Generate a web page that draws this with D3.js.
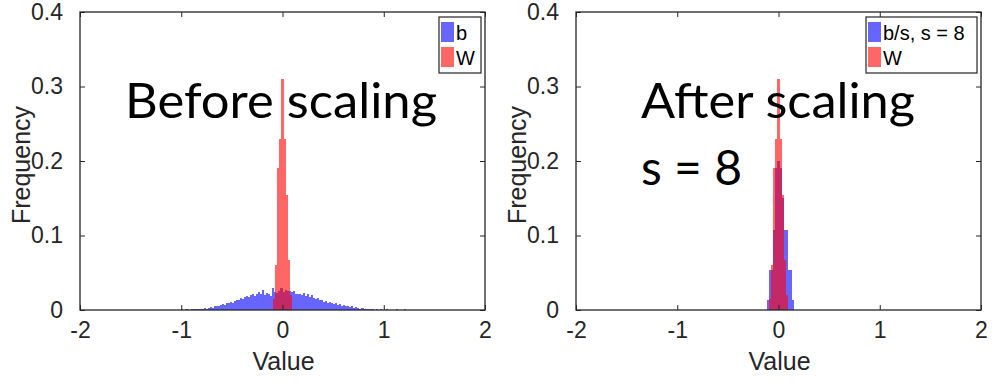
<!DOCTYPE html>
<html>
<head>
<meta charset="utf-8">
<script src="https://cdn.jsdelivr.net/npm/d3@7"></script>
<style>
  html, body { margin: 0; padding: 0; background: #fff; }
  svg { display: block; }
  .ax text { font-family: "Liberation Sans", Arial, sans-serif; fill: #262626; }
  .ax path, .ax line { stroke: #262626; }
</style>
</head>
<body>
<svg id="fig" width="992" height="385"></svg>
<script>
// Histogram bin width (value units) shared by all series
const binWidth = 0.02;

// b: bias values before scaling, bins start at -1.00
const bStart = -1.00;
const bFreq = [
  0.001, 0.000, 0.001, 0.001, 0.000, 0.001, 0.002, 0.001, 0.002, 0.001,
  0.002, 0.003, 0.002, 0.003, 0.004, 0.003, 0.005, 0.006, 0.005, 0.007,
  0.008, 0.007, 0.009, 0.010, 0.011, 0.010, 0.012, 0.014, 0.013, 0.016,
  0.015, 0.018, 0.019, 0.017, 0.020, 0.021, 0.019, 0.022, 0.024, 0.021,
  0.027, 0.020, 0.023, 0.022, 0.019, 0.030, 0.024, 0.023, 0.026, 0.029,
  0.024, 0.027, 0.025, 0.026, 0.024, 0.025, 0.022, 0.021, 0.022, 0.020,
  0.023, 0.019, 0.021, 0.017, 0.020, 0.016, 0.015, 0.016, 0.013, 0.014,
  0.011, 0.012, 0.010, 0.011, 0.009, 0.008, 0.009, 0.007, 0.008, 0.006,
  0.007, 0.005, 0.006, 0.004, 0.005, 0.003, 0.004, 0.003, 0.002, 0.003,
  0.002, 0.001, 0.002, 0.001, 0.001, 0.000, 0.001, 0.000, 0.001, 0.000,
  0.000, 0.001, 0.000, 0.000, 0.000, 0.000, 0.001, 0.000, 0.000, 0.000,
  0.001
];

// b/s with s = 8, bins start at -0.11
const bsStart = -0.11;
const bsFreq = [0.013, 0.054, 0.054, 0.107, 0.190, 0.200, 0.190, 0.150, 0.107, 0.107, 0.054, 0.054, 0.013];

// W: weights, bins start at -0.09
const wStart = -0.09;
const wFreq = [0.015, 0.060, 0.190, 0.230, 0.310, 0.230, 0.155, 0.067, 0.020];

const xTicks = [-2, -1, 0, 1, 2];
const yTicks = [0, 0.1, 0.2, 0.3, 0.4];

const panels = [
  { left: 80,  right: 485, blue: { start: bStart, freq: bFreq }, legend: ["b", "W"],
    title: ["Before scaling"], titleX: 125, titleW: 312 },
  { left: 576, right: 981, blue: { start: bsStart, freq: bsFreq }, legend: ["b/s, s = 8", "W"],
    title: ["After scaling", "s = 8"], titleX: 641, titleW: 274 }
];

const plotTop = 12, plotBottom = 310;
const svg = d3.select("#fig");
const blueFill = "#0000ff", redFill = "#ff0000", alpha = 0.6;
const axisFont = "'Liberation Sans', Arial, sans-serif";

function toBins(series) {
  return series.freq.map((f, i) => ({
    x0: series.start + i * binWidth,
    x1: series.start + (i + 1) * binWidth,
    f
  }));
}

panels.forEach(p => {
  const x = d3.scaleLinear().domain([-2, 2]).range([p.left, p.right]);
  const y = d3.scaleLinear().domain([0, 0.4]).range([plotBottom, plotTop]);
  const g = svg.append("g");

  const blueBins = toBins(p.blue);
  const redBins = toBins({ start: wStart, freq: wFreq });

  g.append("g").selectAll("rect").data(blueBins).join("rect")
    .attr("x", d => x(d.x0)).attr("width", d => x(d.x1) - x(d.x0))
    .attr("y", d => y(d.f)).attr("height", d => y(0) - y(d.f))
    .attr("fill", blueFill).attr("fill-opacity", alpha).attr("shape-rendering", "crispEdges");

  g.append("g").selectAll("rect").data(redBins).join("rect")
    .attr("x", d => x(d.x0)).attr("width", d => x(d.x1) - x(d.x0))
    .attr("y", d => y(d.f)).attr("height", d => y(0) - y(d.f))
    .attr("fill", redFill).attr("fill-opacity", alpha).attr("shape-rendering", "crispEdges");

  // axes with inward ticks on all four sides
  const fmtY = d => d === 0 ? "0" : d3.format(".1f")(d);
  const axB = g.append("g").attr("class", "ax").attr("transform", `translate(0,${plotBottom})`)
    .call(d3.axisBottom(x).tickValues(xTicks).tickSize(-5).tickFormat(d => String(d)));
  const axT = g.append("g").attr("class", "ax").attr("transform", `translate(0,${plotTop})`)
    .call(d3.axisTop(x).tickValues(xTicks).tickSize(-5).tickFormat(""));
  const axL = g.append("g").attr("class", "ax").attr("transform", `translate(${p.left},0)`)
    .call(d3.axisLeft(y).tickValues(yTicks).tickSize(-5).tickPadding(17).tickFormat(fmtY));
  const axR = g.append("g").attr("class", "ax").attr("transform", `translate(${p.right},0)`)
    .call(d3.axisRight(y).tickValues(yTicks).tickSize(-5).tickFormat(""));
  [axB, axT, axL, axR].forEach(a => {
    a.select(".domain").remove();
    a.selectAll("text").attr("font-size", 23);
  });
  axB.selectAll("text").attr("dy", "0.71em").attr("y", 12);
  // box outline
  g.append("rect").attr("x", p.left).attr("y", plotTop).attr("width", p.right - p.left).attr("height", plotBottom - plotTop)
    .attr("fill", "none").attr("stroke", "#262626").attr("stroke-width", 1.3);

  // axis titles
  g.append("text")
    .attr("x", (p.left + p.right) / 2 + 1).attr("y", 370).attr("text-anchor", "middle")
    .style("font-family", axisFont).style("font-size", "25px").attr("fill", "#262626")
    .text("Value");
  g.append("text")
    .attr("transform", `translate(${p.left - 50},${(plotTop + plotBottom) / 2 + 4}) rotate(-90)`)
    .attr("text-anchor", "middle")
    .style("font-family", axisFont).style("font-size", "25px").attr("fill", "#262626")
    .text("Frequency");

  // legend in the upper right corner
  const lgW = p.legend[0].length > 2 ? 111 : 42;
  const lgX = p.right - 4 - lgW, lgY = 17;
  const lg = g.append("g");
  lg.append("rect").attr("x", lgX).attr("y", lgY).attr("width", lgW).attr("height", 56)
    .attr("fill", "#fff").attr("stroke", "#262626").attr("stroke-width", 1.2);
  [blueFill, redFill].forEach((c, i) => {
    const cy = lgY + 15 + i * 25;
    lg.append("rect").attr("x", lgX + 2).attr("y", cy - 10).attr("width", 13).attr("height", 20)
      .attr("fill", c).attr("fill-opacity", alpha);
    lg.append("text").attr("x", lgX + 17).attr("y", cy + 8)
      .style("font-family", axisFont).style("font-size", "20px").attr("fill", "#000")
      .text(p.legend[i]);
  });

  // large annotation text
  p.title.forEach((t, i) => {
    const tx = g.append("text").attr("x", p.titleX).attr("y", 118 + i * 67)
      .style("font-family", "Lato, 'Open Sans', sans-serif").style("font-size", "48px").attr("fill", "#000")
      .text(t);
    if (i === 0) tx.attr("textLength", p.titleW).attr("lengthAdjust", "spacingAndGlyphs");
  });
});
</script>
</body>
</html>
